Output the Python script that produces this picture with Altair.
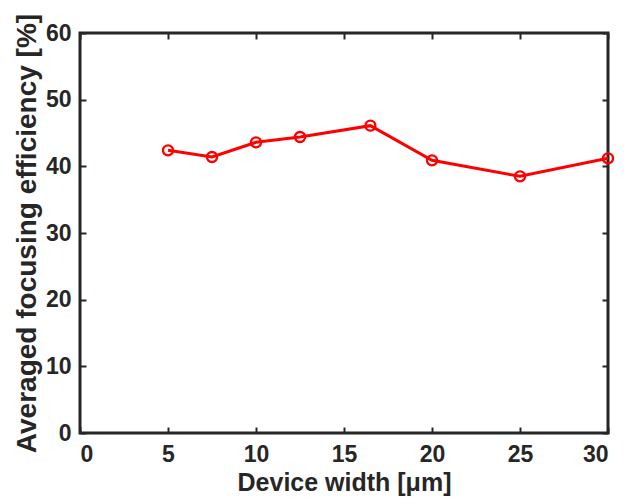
import altair as alt
import pandas as pd

widths = [5, 7.5, 10, 12.5, 16.5, 20, 25, 30]
efficiency = [42.4, 41.4, 43.6, 44.4, 46.1, 40.9, 38.5, 41.2]
x_ticks = [0, 5, 10, 15, 20, 25, 30]
y_ticks = [0, 10, 20, 30, 40, 50, 60]

df = pd.DataFrame({"w": widths, "e": efficiency})

W, H = 528, 400
FONT = "Liberation Sans"
DARK = "#262626"

xs = alt.Scale(domain=[0, 30], nice=False)
ys = alt.Scale(domain=[0, 60], nice=False)

def axis(vals, **kw):
    base = dict(values=vals, grid=False, domain=False, tickColor=DARK,
                tickWidth=2, tickSize=6, labelFont=FONT, labelFontSize=23,
                labelFontWeight="bold", labelColor=DARK, titleFont=FONT,
                titleFontSize=25, titleFontWeight="bold", titleColor=DARK)
    base.update(kw)
    return alt.Axis(**base)

main = alt.Chart(df).mark_line(color="#ff0000", strokeWidth=3, point=alt.OverlayMarkDef(
    filled=False, color="#ff0000", size=100, strokeWidth=2.4)).encode(
    x=alt.X("w:Q", scale=xs, axis=axis(x_ticks, orient="bottom", ticks=False, labelPadding=10,
                                       title="Device width [μm]", titlePadding=4)),
    y=alt.Y("e:Q", scale=ys, axis=axis(y_ticks, orient="left", ticks=False, labelPadding=9,
                                       title="Averaged focusing efficiency [%]", titlePadding=4,
                                       titleFontSize=28)),
)

t1 = alt.Chart(df).mark_point(opacity=0).encode(
    x=alt.X("w:Q", scale=xs, axis=axis(x_ticks, orient="top", offset=-H, labels=False, title=None)),
    y=alt.Y("e:Q", scale=ys, axis=axis(y_ticks, orient="right", offset=-W, labels=False, title=None)),
)
t2 = alt.Chart(df).mark_point(opacity=0).encode(
    x=alt.X("w:Q", scale=xs, axis=axis(x_ticks, orient="bottom", offset=-H, labels=False, title=None)),
    y=alt.Y("e:Q", scale=ys, axis=axis(y_ticks, orient="left", offset=-W, labels=False, title=None)),
)

chart = alt.layer(main, t1, t2).resolve_axis(x="independent", y="independent").properties(
    width=W, height=H,
    autosize=alt.AutoSizeParams(type="none"),
    padding={"left": 72, "top": 25, "right": 9, "bottom": 63},
).configure_view(stroke=DARK, strokeWidth=3)

chart.save("out.html", embed_options={"renderer": "svg", "actions": False})
